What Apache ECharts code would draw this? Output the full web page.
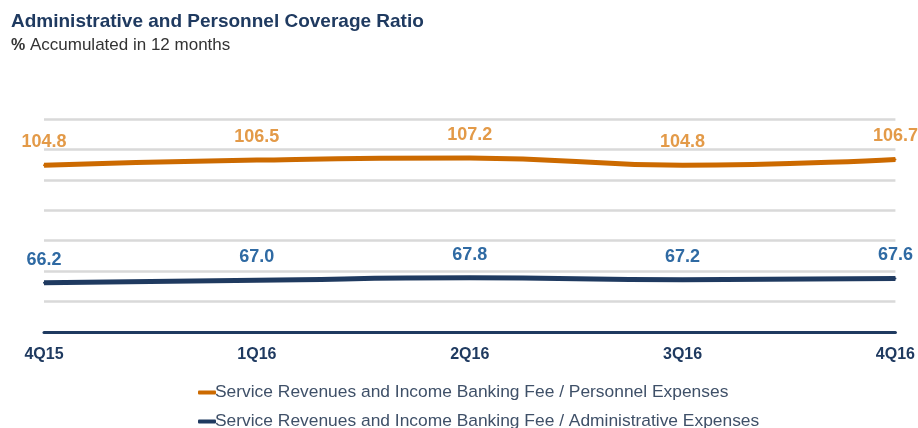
<!DOCTYPE html>
<html>
<head>
<meta charset="utf-8">
<script src="https://cdn.jsdelivr.net/npm/echarts@6/dist/echarts.min.js"></script>
<style>
  html, body { margin: 0; padding: 0; background: #fff; }
  #chart { width: 918px; height: 428px; }
</style>
</head>
<body>
<div id="chart"></div>
<script>
// quarters on the x axis
var quarters = ['4Q15', '1Q16', '2Q16', '3Q16', '4Q16'];

// coverage ratios (%)
var personnelRatio = [104.8, 106.5, 107.2, 104.8, 106.7];
var adminRatio = [66.2, 67.0, 67.8, 67.2, 67.6];

var personnelName = 'Service Revenues and Income Banking Fee / Personnel Expenses';
var adminName = 'Service Revenues and Income Banking Fee / Administrative Expenses';

var navy = '#1f3a60';
var font = 'Arial, "Liberation Sans", sans-serif';

var chart = echarts.init(document.getElementById('chart'));

// one legend block per row, like the stacked legend of the original
function legendRow(name, top) {
    return {
        left: 198,
        top: top,
        padding: 0,
        itemWidth: 18,
        itemHeight: 4,
        icon: 'roundRect',
        textStyle: { fontSize: 17.4, color: '#3f5068', padding: [0, 0, 0, -6] },
        data: [name]
    };
}

chart.setOption({
    animation: false,
    textStyle: { fontFamily: font },
    title: {
        text: 'Administrative and Personnel Coverage Ratio',
        subtext: '{b|%} Accumulated in 12 months',
        left: 11,
        top: 12,
        padding: 0,
        itemGap: 6,
        textStyle: { fontSize: 19, fontWeight: 'bold', color: navy, fontFamily: font },
        subtextStyle: {
            fontSize: 17, color: '#333', fontFamily: font,
            rich: { b: { fontSize: 16, fontWeight: 'bold', color: '#333' } }
        }
    },
    legend: [legendRow(personnelName, 384), legendRow(adminName, 413)],
    grid: { left: 44, right: 21, top: 119, height: 213 },
    xAxis: {
        type: 'category',
        data: quarters,
        boundaryGap: false,
        axisLine: { lineStyle: { color: navy, width: 3 } },
        axisTick: { show: false },
        axisLabel: { fontSize: 16, fontWeight: 'bold', color: navy, margin: 15 }
    },
    yAxis: {
        type: 'value',
        min: 50,
        max: 120,
        interval: 10,
        axisLabel: { show: false },
        axisLine: { show: false },
        axisTick: { show: false },
        splitLine: { lineStyle: { color: '#d9d9d9', width: 2.5 } }
    },
    series: [
        {
            name: personnelName,
            type: 'line',
            data: personnelRatio,
            smooth: true,
            symbol: 'circle',
            symbolSize: 2,
            lineStyle: { color: '#cc6a00', width: 5 },
            itemStyle: { color: '#cc6a00' },
            label: {
                show: true, position: 'top', distance: 13,
                fontSize: 18, fontWeight: 'bold', color: '#e39a48',
                formatter: function (p) { return p.value.toFixed(1); }
            }
        },
        {
            name: adminName,
            type: 'line',
            data: adminRatio,
            smooth: true,
            symbol: 'circle',
            symbolSize: 2,
            lineStyle: { color: navy, width: 5 },
            itemStyle: { color: navy },
            label: {
                show: true, position: 'top', distance: 13,
                fontSize: 18, fontWeight: 'bold', color: '#2f6aa3',
                formatter: function (p) { return p.value.toFixed(1); }
            }
        }
    ]
});
</script>
</body>
</html>
